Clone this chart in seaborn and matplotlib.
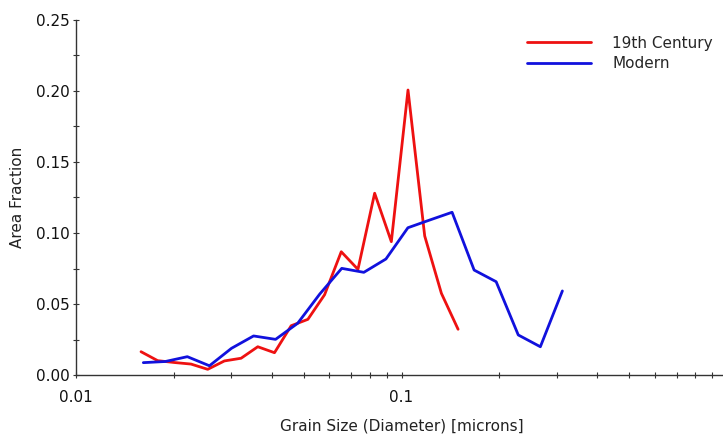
import numpy as np
import pandas as pd
import matplotlib
matplotlib.use("Agg")
import matplotlib.pyplot as plt
import seaborn as sns
from matplotlib.ticker import MultipleLocator, FixedLocator, NullFormatter

# ---- data ----
old_size = [0.01584, 0.01782, 0.02005, 0.02256, 0.02539, 0.02857, 0.03215, 0.03618,
            0.04072, 0.04582, 0.05157, 0.05803, 0.06530, 0.07349, 0.08270, 0.09306,
            0.10471, 0.11784, 0.13261, 0.14923]
old_frac = [0.0164, 0.0101, 0.0088, 0.0077, 0.0040, 0.0099, 0.0118, 0.0199,
            0.0157, 0.0347, 0.0392, 0.0565, 0.0868, 0.0744, 0.1280, 0.0939,
            0.2007, 0.0979, 0.0575, 0.0322]

new_size = [0.01610, 0.01881, 0.02198, 0.02570, 0.03004, 0.03512, 0.04103, 0.04797,
            0.05608, 0.06553, 0.07661, 0.08958, 0.10463, 0.12232, 0.14302, 0.16715,
            0.19533, 0.22841, 0.26704, 0.31209]
new_frac = [0.0087, 0.0095, 0.0129, 0.0065, 0.0188, 0.0275, 0.0251, 0.0364,
            0.0570, 0.0751, 0.0723, 0.0817, 0.1037, 0.1092, 0.1146, 0.0739,
            0.0657, 0.0282, 0.0199, 0.0592]

series_names = ["19th Century", "Modern"]
y_ticks = [0.00, 0.05, 0.10, 0.15, 0.20, 0.25]

df = pd.concat([
    pd.DataFrame({"size": old_size, "frac": old_frac, "set": series_names[0]}),
    pd.DataFrame({"size": new_size, "frac": new_frac, "set": series_names[1]}),
])

sns.set_style("white")
plt.rcParams['font.family'] = ['DejaVu Sans']

fig = plt.figure(figsize=(7.23, 4.36), dpi=100)
ax = fig.add_axes([76 / 723, 61 / 436, 651 / 723, 355 / 436])

sns.lineplot(data=df, x="size", y="frac", hue="set", sort=False,
             palette={"19th Century": "#ee1111", "Modern": "#1111dd"},
             linewidth=2.0, ax=ax)

ax.set_xscale("log")
ax.set_xlim(0.01, 1.0)
ax.set_ylim(0, 0.25)
ax.set_yticks(y_ticks)
ax.set_yticklabels([f"{t:.2f}" for t in y_ticks])
ax.yaxis.set_minor_locator(MultipleLocator(0.025))
ax.set_xticks([0.01, 0.1, 1.0])
ax.set_xticklabels(["0.01", "0.1", "1"])
ax.xaxis.set_minor_locator(FixedLocator([m * d for d in (0.01, 0.1) for m in range(2, 10)]))
ax.xaxis.set_minor_formatter(NullFormatter())

for side in ("top", "right"):
    ax.spines[side].set_visible(False)
for side in ("left", "bottom"):
    ax.spines[side].set_color("#333333")
    ax.spines[side].set_linewidth(1.0)

# seaborn's white style hides the ticks, turn them back on
ax.tick_params(axis="both", which="both", bottom=True, left=True, direction="inout",
               length=5, width=0.8, color="#333333", labelsize=11, labelcolor="#111111")
ax.tick_params(axis="y", which="major", pad=2)
ax.tick_params(axis="x", which="major", pad=8)
ax.tick_params(which="minor", length=4)

ax.set_xlabel("Grain Size (Diameter) [microns]", fontsize=11, color="#222222", labelpad=10)
ax.set_ylabel("Area Fraction", fontsize=11, color="#222222", labelpad=8)

ax.legend(frameon=False, loc="upper left", bbox_to_anchor=(513 / 723, 1 - 22 / 436),
          bbox_transform=fig.transFigure, fontsize=11, handlelength=4.2,
          handletextpad=1.4, labelspacing=0.35, title=None)

fig.savefig("out.png", dpi=100)
